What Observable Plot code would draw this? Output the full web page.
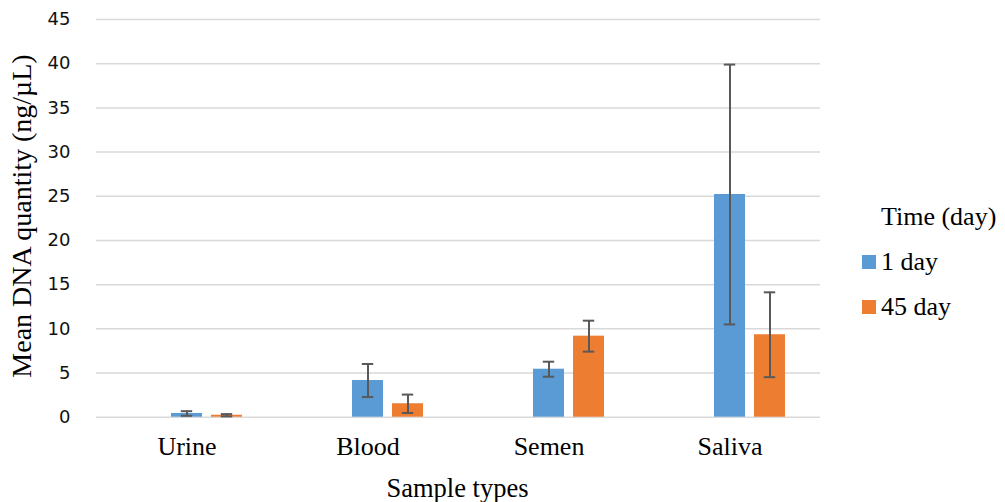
<!DOCTYPE html>
<html><head><meta charset="utf-8">
<script src="https://cdn.jsdelivr.net/npm/d3@7"></script>
<script src="https://cdn.jsdelivr.net/npm/@observablehq/plot@0.6"></script>
<style>
body{margin:0;background:#fff;}
#wrap{position:relative;width:1005px;height:502px;overflow:hidden;}
#legend{position:absolute;left:862px;top:194px;font-family:"Liberation Serif","Times New Roman",serif;font-size:26px;color:#000;}
.item{display:flex;align-items:center;height:45px;white-space:nowrap;}
.sw{width:14px;height:14px;margin-right:5px;flex:none;}
.title{position:absolute;font-family:"Liberation Serif","Times New Roman",serif;font-size:26px;color:#000;white-space:nowrap;line-height:1;}
#ytitle{left:22px;top:216px;font-size:28px;transform:translate(-50%,-50%) rotate(-90deg);}
#xtitle{left:457.5px;top:488px;font-size:26.5px;transform:translate(-50%,-50%);}
</style></head>
<body><div id="wrap"><div id="chart"></div><div id="legend"></div><div id="ytitle" class="title"></div><div id="xtitle" class="title"></div></div>
<script>
const categories = ["Urine", "Blood", "Semen", "Saliva"];
const seriesNames = ["Time (day)", "1 day", "45 day"];
const seriesColors = ["transparent", "#5B9BD5", "#ED7D31"];
const day1Mean = [0.42, 4.15, 5.43, 25.2];
const day1Err  = [0.26, 1.87, 0.85, 14.7];
const day45Mean = [0.22, 1.52, 9.17, 9.33];
const day45Err  = [0.13, 1.04, 1.75, 4.8];
const yTicks = [0, 5, 10, 15, 20, 25, 30, 35, 40, 45];
const yTitle = "Mean DNA quantity (ng/µL)";
const xTitle = "Sample types";

const rows = [];
categories.forEach((c, i) => {
  rows.push({category: c, series: "1 day", mean: day1Mean[i], err: day1Err[i]});
  rows.push({category: c, series: "45 day", mean: day45Mean[i], err: day45Err[i]});
});

const serif = "'Liberation Serif', 'Times New Roman', serif";
const chart = Plot.plot({
  width: 840, height: 502,
  marginLeft: 94, marginRight: 19, marginTop: 19, marginBottom: 85.3,
  style: {fontFamily: "'DejaVu Sans', sans-serif", fontSize: "18px", color: "#000", background: "white"},
  fx: {domain: categories, padding: 0},
  x: {domain: seriesNames, paddingInner: 0.213, paddingOuter: 0.869, axis: null},
  y: {domain: [0, 45]},
  color: {domain: seriesNames, range: seriesColors},
  marks: [
    Plot.gridY(yTicks, {stroke: "#d9d9d9", strokeOpacity: 1, strokeWidth: 1.5}),
    Plot.axisY(yTicks, {tickSize: 0, tickPadding: 26, label: null, fill: "#111", fontSize: 18}),
    Plot.axisFx({anchor: "bottom", tickSize: 0, tickPadding: 19, fontFamily: serif, fontSize: 26, fill: "#000", label: null}),
    Plot.barY(rows, {fx: "category", x: "series", y: "mean", fill: "series"}),
    Plot.ruleX(rows, {fx: "category", x: "series", y1: d => d.mean - d.err, y2: d => d.mean + d.err, stroke: "#595959", strokeWidth: 2}),
    Plot.tickY(rows, {fx: "category", x: "series", y: d => d.mean - d.err, stroke: "#595959", strokeWidth: 2, insetLeft: 9.8, insetRight: 9.8}),
    Plot.tickY(rows, {fx: "category", x: "series", y: d => d.mean + d.err, stroke: "#595959", strokeWidth: 2, insetLeft: 9.8, insetRight: 9.8})
  ]
});
document.getElementById("chart").appendChild(chart);
document.getElementById("ytitle").textContent = yTitle;
document.getElementById("xtitle").textContent = xTitle;

const legend = document.getElementById("legend");
seriesNames.forEach((s, i) => {
  const item = document.createElement("div");
  item.className = "item";
  const sw = document.createElement("span");
  sw.className = "sw";
  sw.style.background = seriesColors[i];
  const t = document.createElement("span");
  t.textContent = s;
  item.appendChild(sw); item.appendChild(t);
  legend.appendChild(item);
});
</script>
</body></html>
